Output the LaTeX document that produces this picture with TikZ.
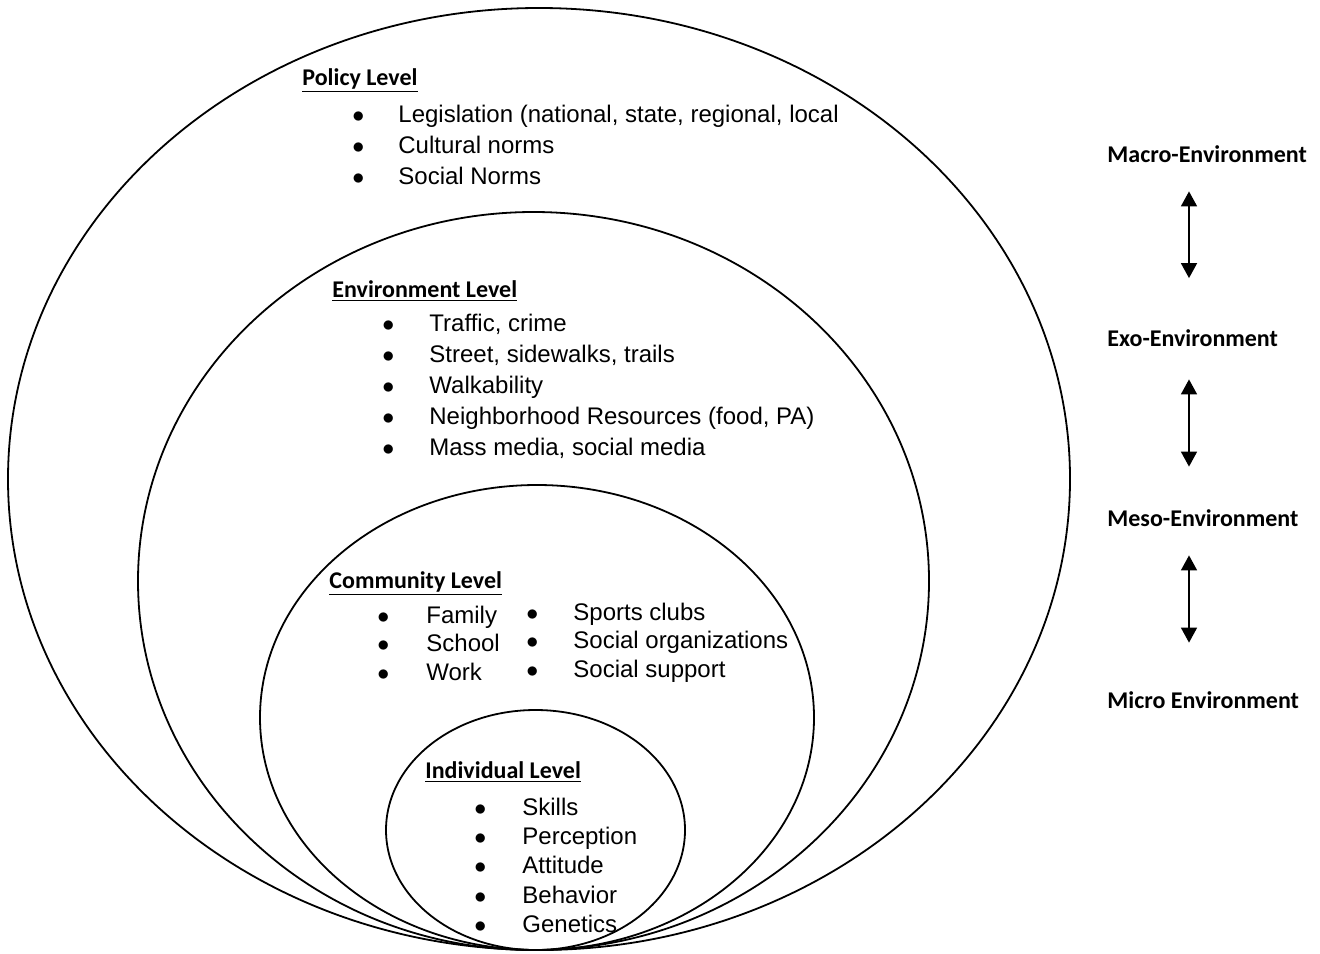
\documentclass[tikz,border=0pt]{standalone}
\usepackage{fontspec}
\setmainfont{Liberation Sans}
\newfontfamily\headfont{Carlito}
\usetikzlibrary{arrows.meta,shapes.geometric}
\newcommand{\bitem}[2][23.5pt]{\makebox[#1][l]{$\bullet$}#2}

\begin{document}
\begin{tikzpicture}[
  x=0.5pt, y=-0.5pt,
  >={Triangle[width=8pt,length=7.5pt]},
  ring/.style={draw, ellipse, line width=0.9pt, inner sep=0pt},
  head/.style={font=\headfont\bfseries\fontsize{12}{14}\selectfont, anchor=base west, inner sep=0pt},
  entry/.style={font=\fontsize{12}{14}\selectfont, anchor=base west, inner sep=0pt},
  envlab/.style={head, text height=8pt, text depth=0pt},
  updown/.style={<->, line width=0.8pt}
]
\useasboundingbox (0,0) rectangle (1320,953);

% nested levels
\node[ring, minimum width=531pt, minimum height=471pt] (policyring) at (539,479) {};
\node[ring, minimum width=395.5pt, minimum height=369pt] (envring) at (533.5,581) {};
\node[ring, minimum width=277pt, minimum height=232.5pt] (commring) at (537,717.5) {};
\node[ring, minimum width=149.5pt, minimum height=120pt] (indring) at (535.5,830) {};

% policy level
\node[head] (policy) at (302,85) {\underline{Policy Level}};
\foreach \txt [count=\i] in {{Legislation (national, state, regional, local}, {Cultural norms}, {Social Norms}}
  \node[entry] (pol\i) at (352,91+31*\i) {\bitem[23pt]{\txt}};

% environment level
\node[head] (environment) at (332,297) {\underline{Environment Level}};
\foreach \txt [count=\i] in {{Traffic, crime}, {Street, sidewalks, trails}, {Walkability}, {Neighborhood Resources (food, PA)}, {Mass media, social media}}
  \node[entry] (env\i) at (382,301+30.8*\i) {\bitem{\txt}};

% community level
\node[head] (community) at (329,588) {\underline{Community Level}};
\foreach \txt [count=\i] in {Family, School, Work}
  \node[entry] (comA\i) at (377,594.5+28.5*\i) {\bitem[24.5pt]{\txt}};
\foreach \txt [count=\i] in {{Sports clubs}, {Social organizations}, {Social support}}
  \node[entry] (comB\i) at (526,591.5+28.5*\i) {\bitem{\txt}};

% individual level
\node[head] (individual) at (425,778) {\underline{Individual Level}};
\foreach \txt [count=\i] in {Skills, Perception, Attitude, Behavior, Genetics}
  \node[entry] (ind\i) at (474,785.8+29.3*\i) {\bitem[24pt]{\txt}};

% environment scale
\node[envlab] (macro) at (1107,162) {Macro-Environment};
\node[envlab] (exo) at (1107,346) {Exo-Environment};
\node[envlab] (meso) at (1107,526) {Meso-Environment};
\node[envlab] (micro) at (1107,708) {Micro Environment};

\draw[updown] ([shift={(82,29)}]macro.south west) -- ([shift={(82,-51.5)}]exo.north west);
\draw[updown] ([shift={(82,33)}]exo.south west) -- ([shift={(82,-43)}]meso.north west);
\draw[updown] ([shift={(82,29)}]meso.south west) -- ([shift={(82,-49)}]micro.north west);

\end{tikzpicture}
\end{document}
